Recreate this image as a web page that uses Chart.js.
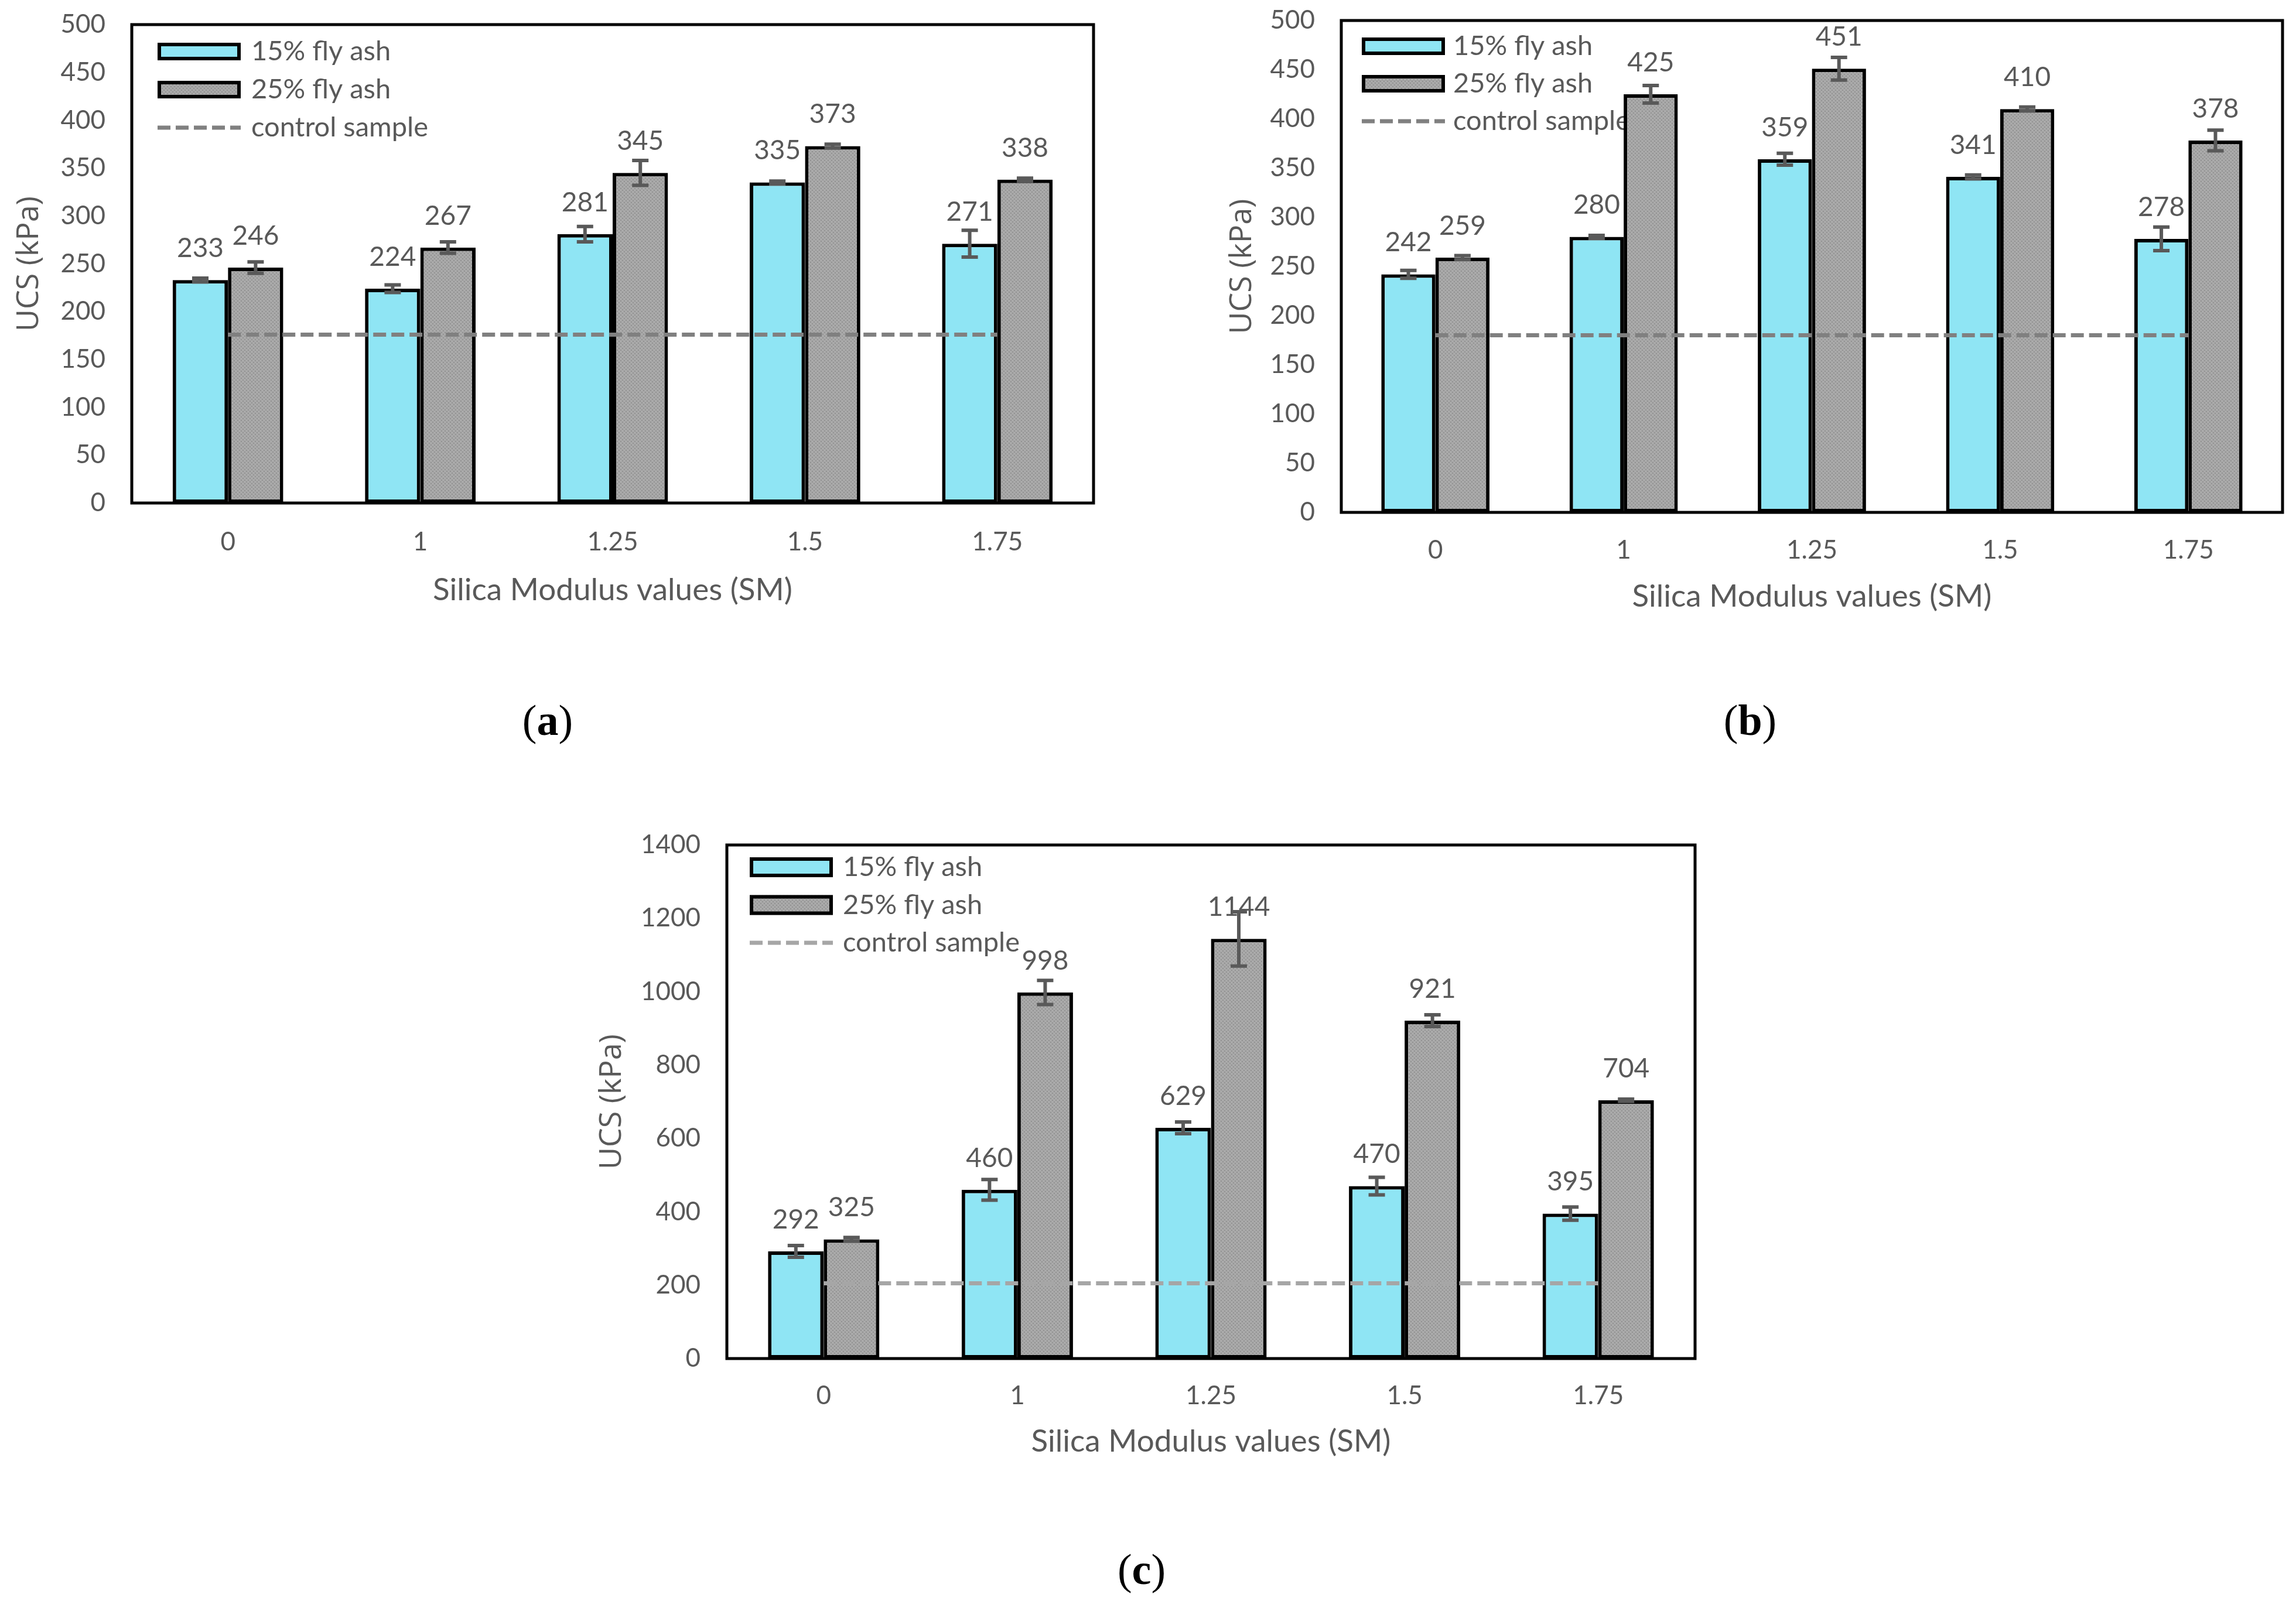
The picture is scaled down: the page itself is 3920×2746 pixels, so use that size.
<!DOCTYPE html>
<html>
<head>
<meta charset="utf-8">
<script src="https://cdn.jsdelivr.net/npm/chart.js@4/dist/chart.umd.min.js"></script>
<style>
  html, body { margin: 0; padding: 0; background: #ffffff; }
  body { width: 3920px; height: 2746px; position: relative; overflow: hidden; }
  canvas { position: absolute; }
  .plabel { position: absolute; font-family: 'Liberation Serif', 'DejaVu Serif', serif; font-size: 74px; color: #000; transform: translate(-50%, -50%); white-space: nowrap; }
</style>
</head>
<body>
<canvas id="ca" width="1900" height="1080" style="left:0px;top:0px;width:1900px;height:1080px;"></canvas>
<canvas id="cb" width="1960" height="1080" style="left:1960px;top:0px;width:1960px;height:1080px;"></canvas>
<canvas id="cc" width="2000" height="1200" style="left:950px;top:1380px;width:2000px;height:1200px;"></canvas>
<div class="plabel" style="left:935px;top:1230px;">(<b>a</b>)</div>
<div class="plabel" style="left:2988px;top:1230px;">(<b>b</b>)</div>
<div class="plabel" style="left:1949px;top:2680px;">(<b>c</b>)</div>
<script>
// ---------- data ----------
const categories = ['0', '1', '1.25', '1.5', '1.75'];
const seriesNames = ['15% fly ash', '25% fly ash', 'control sample'];

const a15 = [233, 224, 281, 335, 271];
const a25 = [246, 267, 345, 373, 338];
const a15err = [2, 4, 8, 1.5, 14];
const a25err = [6, 6, 13, 2, 1.5];
const aControl = [176, 176, 176, 176, 176];
const aTicks = { max: 500, step: 50 };

const b15 = [242, 280, 359, 341, 278];
const b25 = [259, 425, 451, 410, 378];
const b15err = [4, 1.5, 6, 2, 12];
const b25err = [2, 9, 11.5, 2, 10.5];
const bControl = [180, 180, 180, 180, 180];
const bTicks = { max: 500, step: 50 };

const c15 = [292, 460, 629, 470, 395];
const c25 = [325, 998, 1144, 921, 704];
const c15err = [16, 28, 16, 24, 18];
const c25err = [5, 33, 74, 16, 3];
const cControl = [205, 205, 205, 205, 205];
const cTicks = { max: 1400, step: 200 };

// ---------- styles ----------
const TEXT = '#595959';
const CYAN = '#8fe5f4';
const FONT = 'Lato, "Open Sans", sans-serif';

function grayPattern() {
  const p = document.createElement('canvas');
  p.width = 6; p.height = 6;
  const g = p.getContext('2d');
  g.fillStyle = '#a8a8a8';
  g.fillRect(0, 0, 6, 6);
  g.fillStyle = '#929292';
  g.fillRect(0, 0, 2, 2);
  g.fillRect(3, 3, 2, 2);
  g.fillStyle = '#b4b4b4';
  g.fillRect(3, 0, 1, 1);
  g.fillRect(0, 3, 1, 1);
  return g.createPattern(p, 'repeat');
}
const GRAY = grayPattern();

// ---------- plugins ----------
const panelPlugin = {
  id: 'panelPlugin',
  beforeDatasetsDraw(chart) {
    const o = chart.options.plugins.panelPlugin;
    const ctx = chart.ctx;
    const ca = chart.chartArea;
    const x0 = ca.left + o.legX;
    ctx.save();
    const items = [
      { fill: CYAN },
      { fill: GRAY },
      { line: o.lineColor }
    ];
    items.forEach((it, i) => {
      const cy = ca.top + o.legY + i * o.legGap;
      if (it.line) {
        ctx.strokeStyle = it.line;
        ctx.lineWidth = 7;
        ctx.setLineDash([22, 9]);
        ctx.beginPath();
        ctx.moveTo(x0, cy);
        ctx.lineTo(x0 + o.boxW, cy);
        ctx.stroke();
        ctx.setLineDash([]);
      } else {
        ctx.fillStyle = it.fill;
        ctx.fillRect(x0, cy - o.boxH / 2, o.boxW, o.boxH);
        ctx.strokeStyle = '#000';
        ctx.lineWidth = 6;
        ctx.strokeRect(x0 + 3, cy - o.boxH / 2 + 3, o.boxW - 6, o.boxH - 6);
      }
      ctx.fillStyle = TEXT;
      ctx.font = '47px ' + FONT;
      ctx.textAlign = 'left';
      ctx.textBaseline = 'middle';
      ctx.fillText(seriesNames[i], ca.left + o.textX, cy);
    });
    ctx.restore();
  },
  afterDatasetsDraw(chart) {
    const o = chart.options.plugins.panelPlugin;
    const ctx = chart.ctx;
    const ys = chart.scales.y;
    ctx.save();
    // value labels
    ctx.fillStyle = TEXT;
    ctx.font = '46px ' + FONT;
    ctx.textAlign = 'center';
    ctx.textBaseline = 'middle';
    [0, 1].forEach(di => {
      const meta = chart.getDatasetMeta(di);
      const data = chart.data.datasets[di].data;
      meta.data.forEach((el, j) => {
        ctx.fillText(String(data[j]), el.x, el.y - 54);
      });
    });
    // error bars
    ctx.strokeStyle = '#595959';
    ctx.lineWidth = 6;
    [0, 1].forEach(di => {
      const meta = chart.getDatasetMeta(di);
      const data = chart.data.datasets[di].data;
      const errs = o.errors[di];
      meta.data.forEach((el, j) => {
        const yTop = ys.getPixelForValue(data[j] + errs[j]);
        const yBot = ys.getPixelForValue(data[j] - errs[j]);
        const cw = 14;
        ctx.beginPath();
        ctx.moveTo(el.x, yTop); ctx.lineTo(el.x, yBot);
        ctx.moveTo(el.x - cw, yTop); ctx.lineTo(el.x + cw, yTop);
        ctx.moveTo(el.x - cw, yBot); ctx.lineTo(el.x + cw, yBot);
        ctx.stroke();
      });
    });
    // plot frame
    const ca = chart.chartArea;
    ctx.strokeStyle = '#000';
    ctx.lineWidth = 5;
    ctx.strokeRect(ca.left, ca.top, ca.right - ca.left, ca.bottom - ca.top);
    ctx.restore();
  }
};

function makeChart(id, v15, v25, e15, e25, ctrl, ticks, lay) {
  return new Chart(document.getElementById(id), {
    data: {
      labels: categories,
      datasets: [
        { type: 'bar', label: seriesNames[0], data: v15, backgroundColor: CYAN, borderColor: '#000', borderWidth: 6, borderSkipped: false, order: 2 },
        { type: 'bar', label: seriesNames[1], data: v25, backgroundColor: GRAY, borderColor: '#000', borderWidth: 6, borderSkipped: false, order: 3 },
        { type: 'line', label: seriesNames[2], data: ctrl, borderColor: lay.lineColor, borderWidth: 7, borderDash: [22, 9], pointRadius: 0, fill: false, order: 1 }
      ]
    },
    options: {
      responsive: false,
      animation: false,
      devicePixelRatio: 1,
      layout: { padding: { top: lay.padTop, right: lay.padRight, left: 0, bottom: 0 } },
      datasets: { bar: { barPercentage: 1.0, categoryPercentage: 0.575 } },
      plugins: {
        legend: { display: false },
        tooltip: { enabled: false },
        panelPlugin: {
          errors: [e15, e25], lineColor: lay.lineColor,
          legX: lay.legX, legY: lay.legY, legGap: lay.legGap, textX: lay.textX, boxW: 142, boxH: lay.boxH
        }
      },
      scales: {
        x: {
          type: 'category',
          grid: { display: false, drawTicks: false },
          border: { display: false },
          ticks: { color: TEXT, font: { family: FONT, size: 44 }, padding: lay.xTickPad, maxRotation: 0 },
          title: { display: true, text: 'Silica Modulus values (SM)', color: TEXT, font: { family: FONT, size: 53 }, padding: { top: 0, bottom: lay.xTitlePad } },
          afterFit(s) { s.height = lay.xH; s.paddingLeft = 0; s.paddingRight = 0; }
        },
        y: {
          min: 0, max: ticks.max,
          grid: { display: false, drawTicks: false },
          border: { display: false },
          ticks: { stepSize: ticks.step, color: TEXT, font: { family: FONT, size: 44 }, padding: 45, callback: v => String(v) },
          title: { display: true, text: 'UCS (kPa)', color: TEXT, font: { family: '"Open Sans", sans-serif', size: 52 }, padding: { top: lay.yTitlePad, bottom: 0 } },
          afterFit(s) { s.width = lay.yW; s.paddingTop = 0; s.paddingBottom = 0; }
        }
      }
    },
    plugins: [panelPlugin]
  });
}

makeChart('ca', a15, a25, a15err, a25err, aControl, aTicks, {
  padTop: 42, padRight: 33, yW: 225, xH: 221, xTickPad: 40, xTitlePad: 40, yTitlePad: 19,
  lineColor: '#808080', legX: 44, legY: 46, legGap: 65, textX: 204, boxH: 30
});
makeChart('cb', b15, b25, b15err, b25err, bControl, bTicks, {
  padTop: 35, padRight: 23, yW: 330, xH: 205, xTickPad: 38, xTitlePad: 29, yTitlePad: 130,
  lineColor: '#808080', legX: 35, legY: 44, legGap: 64, textX: 191, boxH: 30
});
makeChart('cc', c15, c25, c15err, c25err, cControl, cTicks, {
  padTop: 63, padRight: 56, yW: 291, xH: 260, xTickPad: 37, xTitlePad: 86, yTitlePad: 64,
  lineColor: '#a6a6a6', legX: 39, legY: 38, legGap: 64.5, textX: 198, boxH: 34
});
</script>
</body>
</html>
